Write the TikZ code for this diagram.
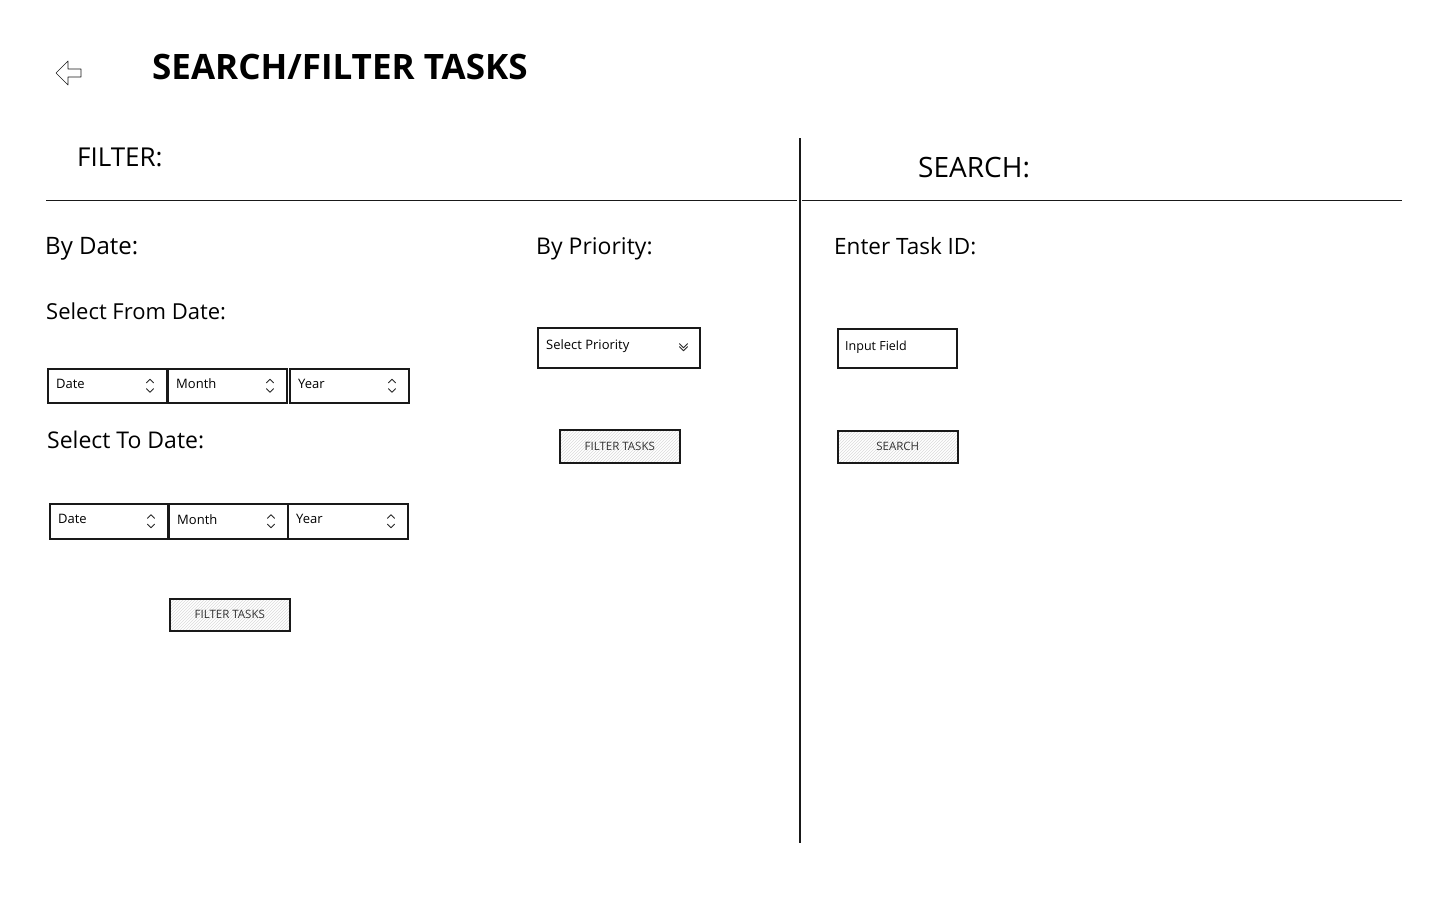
\documentclass[tikz,border=0pt]{standalone}
\usepackage{fontspec}
\setmainfont{Open Sans}
\usetikzlibrary{patterns,calc}
\begin{document}
\begin{tikzpicture}[x=1pt,y=-1pt,
  ink/.style={draw=black!90},
  field/.style={draw=black!90, line width=1.5pt, rectangle, inner sep=0pt, anchor=north west},
  btn/.style={draw=black!90, line width=1.5pt, rectangle, inner sep=0pt, anchor=north west, pattern=north east lines, pattern color=black!14},
  lbl/.style={anchor=west, inner sep=0pt, text=black},
  small/.style={lbl, font=\fontsize{13}{15}\selectfont},
  btntext/.style={inner sep=0pt, text=black!80, font=\fontsize{11.5}{13}\selectfont},
  chev/.style={draw=black!85, line width=0.9pt, line cap=round, line join=round}
]
\useasboundingbox (0,0) rectangle (1440,900);
\fill[white] (0,0) rectangle (1440,900);

% back arrow
\draw[ink, line width=0.7pt, line join=round] (56,73) -- (68,61) -- (68,69) -- (81,69) -- (81,77) -- (68,77) -- (68,85) -- cycle;

% title
\node[lbl, font=\fontsize{35}{40}\selectfont\bfseries] (title) at (152,67) {SEARCH/FILTER TASKS};

% section headings
\node[lbl, font=\fontsize{26}{30}\selectfont] (filterh) at (77,157) {FILTER:};
\node[lbl, font=\fontsize{28}{32}\selectfont] (searchh) at (918,168) {SEARCH:};

% rules
\coordinate (hl1a) at (46,200); \coordinate (hl1b) at (797,200);
\coordinate (hl2a) at (802,200); \coordinate (hl2b) at (1402,200);
\coordinate (vla) at (800,138); \coordinate (vlb) at (800,843);
\draw[ink, line width=1pt] (hl1a) -- (hl1b);
\draw[ink, line width=1pt] (hl2a) -- (hl2b);
\draw[ink, line width=1.6pt] (vla) -- (vlb);

% labels
\node[lbl, font=\fontsize{24}{28}\selectfont] (bydate) at (45,249) {By Date:};
\node[lbl, font=\fontsize{22}{26}\selectfont] (fromdate) at (46,311) {Select From Date:};
\node[lbl, font=\fontsize{23}{27}\selectfont] (todate) at (47,440) {Select To Date:};
\node[lbl, font=\fontsize{23}{27}\selectfont] (byprio) at (536,249) {By Priority:};
\node[lbl, font=\fontsize{22.5}{26}\selectfont] (taskid) at (834,246) {Enter Task ID:};

% spinner fields, row 1
\node[field, minimum width=119, minimum height=34] (fd) at (47,368) {};
\node[field, minimum width=119, minimum height=34] (fm) at (167,368) {};
\node[field, minimum width=119, minimum height=34] (fy) at (289,368) {};
% row 2
\node[field, minimum width=118, minimum height=35] (td) at (49,503) {};
\node[field, minimum width=119, minimum height=35] (tm) at (168,503) {};
\node[field, minimum width=120, minimum height=35] (ty) at (287,503) {};

\foreach \n/\t in {fd/Date,fm/Month,fy/Year,td/Date,tm/Month,ty/Year}{
  \node[small] (\n-t) at ($(\n.west)+(9,-2)$) {\t};
  \draw[chev] ($(\n.east)+(-21,-3)$) -- ++(3.5,-3.5) -- ++(3.5,3.5);
  \draw[chev] ($(\n.east)+(-21,3)$) -- ++(3.5,3.5) -- ++(3.5,-3.5);
}

% priority select
\node[field, minimum width=162, minimum height=40] (prio) at (537,327) {};
\node[small] (prio-t) at ($(prio.west)+(9,-2)$) {Select Priority};
\draw[chev] ($(prio.east)+(-21,-4)$) -- ++(4,4) -- ++(4,-4);
\draw[chev] ($(prio.east)+(-21,-1)$) -- ++(4,4) -- ++(4,-4);

% input field
\node[field, minimum width=119, minimum height=39] (inp) at (837,328) {};
\node[small, font=\fontsize{12.5}{14}\selectfont] (inp-t) at ($(inp.west)+(8,-1)$) {Input Field};

% buttons
\node[btn, minimum width=120, minimum height=32] (b1) at (169,598) {};
\node[btntext] (b1-t) at (b1.center) {FILTER TASKS};
\node[btn, minimum width=120, minimum height=33] (b2) at (559,429) {};
\node[btntext] (b2-t) at (b2.center) {FILTER TASKS};
\node[btn, minimum width=120, minimum height=32] (b3) at (837,430) {};
\node[btntext] (b3-t) at (b3.center) {SEARCH};
\end{tikzpicture}
\end{document}
